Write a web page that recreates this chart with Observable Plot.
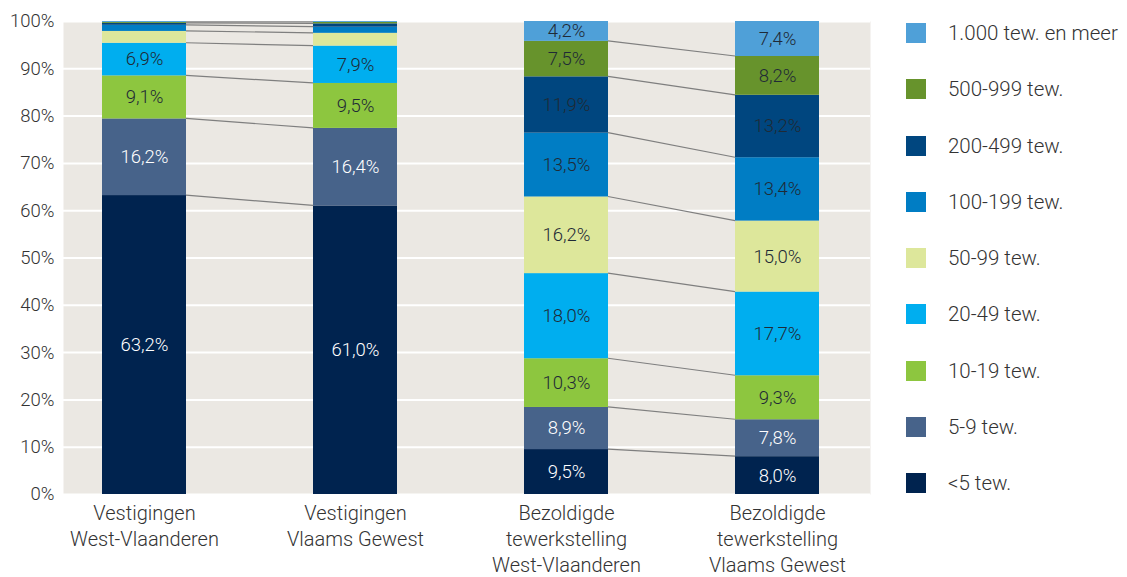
<!DOCTYPE html>
<html>
<head>
<meta charset="utf-8">
<script src="https://cdn.jsdelivr.net/npm/d3@7"></script>
<script src="https://cdn.jsdelivr.net/npm/@observablehq/plot@0.6"></script>
<style>
  html, body { margin: 0; padding: 0; background: #fff; }
  #wrap { position: relative; width: 1127px; height: 577px; font-family: Roboto, "Noto Sans", sans-serif; font-weight: 300; }
  #legend { position: absolute; left: 906px; top: 23px; }
  .item { position: relative; height: 56.3px; }
  .sw { position: absolute; left: 0; top: 0; width: 20px; height: 20px; }
  .lab { position: absolute; left: 42px; top: -2px; font-size: 20.5px; line-height: 24px; color: #333; white-space: nowrap; }
</style>
</head>
<body>
<div id="wrap"><div id="chart"></div><div id="legend"></div></div>
<script>
const categories = [
  "Vestigingen\nWest-Vlaanderen",
  "Vestigingen\nVlaams Gewest",
  "Bezoldigde\ntewerkstelling\nWest-Vlaanderen",
  "Bezoldigde\ntewerkstelling\nVlaams Gewest"
];
const groups = ["<5 tew.", "5-9 tew.", "10-19 tew.", "20-49 tew.", "50-99 tew.", "100-199 tew.", "200-499 tew.", "500-999 tew.", "1.000 tew. en meer"];
const colors = ["#00234f", "#47638a", "#8dc63f", "#00aeef", "#dde79b", "#007dc4", "#00467f", "#67932c", "#4fa0d8"];

const vestigingenWV = [63.2, 16.2, 9.1, 6.9, 2.5, 1.3, 0.4, 0.2, 0.2];
const vestigingenVG = [61.0, 16.4, 9.5, 7.9, 2.7, 1.3, 0.7, 0.3, 0.2];
const tewerkWV = [9.5, 8.9, 10.3, 18.0, 16.2, 13.5, 11.9, 7.5, 4.2];
const tewerkVG = [8.0, 7.8, 9.3, 17.7, 15.0, 13.4, 13.2, 8.2, 7.4];
const seriesValues = [vestigingenWV, vestigingenVG, tewerkWV, tewerkVG];

const yTicks = [0, 10, 20, 30, 40, 50, 60, 70, 80, 90, 100];
const connectedPairs = [[0, 1], [2, 3]];
const whiteLabelGroups = ["<5 tew.", "5-9 tew."];

const data = [];
categories.forEach((c, ci) => {
  groups.forEach((g, gi) => data.push({cat: c, group: g, value: seriesValues[ci][gi]}));
});

const fmt = v => v.toFixed(1).replace(".", ",") + "%";

function connectors(index, scales) {
  const x = scales.x, y = scales.y;
  const bw = typeof x.bandwidth === "function" ? x.bandwidth() : scales.scales.x.bandwidth;
  const g = d3.create("svg:g");
  for (const [a, b] of connectedPairs) {
    let ca = 0, cb = 0;
    for (let i = 0; i < groups.length - 1; i++) {
      ca += seriesValues[a][i];
      cb += seriesValues[b][i];
      g.append("line")
        .attr("x1", x(categories[a]) + bw)
        .attr("x2", x(categories[b]))
        .attr("y1", y(ca))
        .attr("y2", y(cb))
        .attr("stroke", "#7f7f7f")
        .attr("stroke-width", 1.2);
    }
  }
  return g.node();
}

const chart = Plot.plot({
  width: 1127,
  height: 577,
  marginLeft: 63,
  marginRight: 257,
  marginTop: 21,
  marginBottom: 83,
  style: {fontFamily: "Roboto, 'Noto Sans', sans-serif", fontWeight: 300, background: "transparent"},
  x: {domain: categories, paddingInner: 0.6, paddingOuter: 0.206, align: 0.437, label: null},
  y: {domain: [0, 100], label: null},
  color: {domain: groups, range: colors},
  marks: [
    Plot.frame({fill: "#ebe8e3", stroke: null}),
    Plot.gridY(yTicks, {stroke: "white", strokeOpacity: 1, strokeWidth: 2}),
    Plot.barY(data, {x: "cat", y: "value", fill: "group", order: groups, inset: 0}),
    connectors,
    Plot.text(data, Plot.stackY({x: "cat", y: "value", z: "group", order: groups,
      text: d => (d.value >= 4 && whiteLabelGroups.includes(d.group)) ? fmt(d.value) : "",
      fill: "white", fontSize: 18.5})),
    Plot.text(data, Plot.stackY({x: "cat", y: "value", z: "group", order: groups,
      text: d => (d.value >= 4 && !whiteLabelGroups.includes(d.group)) ? fmt(d.value) : "",
      fill: "#1f2a36", fontSize: 18.5})),
    Plot.axisY(yTicks, {tickSize: 0, tickPadding: 9, tickFormat: d => d + "%", fontSize: 18.5, fill: "#333", label: null}),
    Plot.axisX({tickSize: 0, tickPadding: 7, fontSize: 20, lineHeight: 1.3, fill: "#333", label: null})
  ]
});
document.getElementById("chart").appendChild(chart);

const legend = d3.select("#legend");
[...groups].reverse().forEach(g => {
  const item = legend.append("div").attr("class", "item");
  item.append("div").attr("class", "sw").style("background", colors[groups.indexOf(g)]);
  item.append("div").attr("class", "lab").text(g);
});
</script>
</body>
</html>
